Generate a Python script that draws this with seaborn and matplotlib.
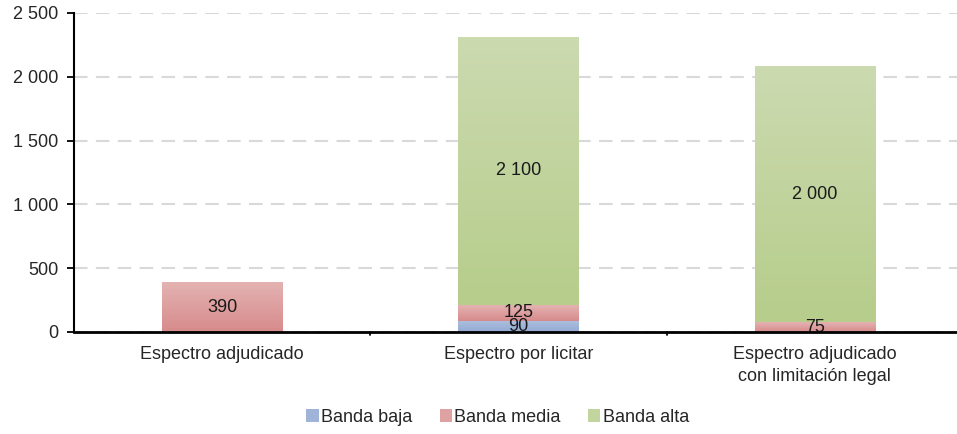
import numpy as np
import matplotlib
matplotlib.use("Agg")
import matplotlib.pyplot as plt
import matplotlib.colors as mcolors
from matplotlib.patches import Patch
import seaborn as sns

categories = ["Espectro adjudicado", "Espectro por licitar", "Espectro adjudicado\ncon limitación legal"]
series = ["Banda baja", "Banda media", "Banda alta"]
banda_baja = [0, 90, 0]
banda_media = [390, 125, 75]
banda_alta = [0, 2100, 2000]
y_ticks = [0, 500, 1000, 1500, 2000, 2500]
y_tick_labels = ["0", "500", "1 000", "1 500", "2 000", "2 500"]

# (top colour, bottom colour) of each gradient fill
grad_colors = {
    "Banda baja": ("#aec0de", "#93aad3"),
    "Banda media": ("#e4b2b2", "#d78b8b"),
    "Banda alta": ("#ccdab0", "#b6cd8b"),
}
legend_colors = {"Banda baja": "#a0b4da", "Banda media": "#dea2a2", "Banda alta": "#c2d59f"}

sns.set_theme(style="white")
plt.rcParams["font.family"] = ["Liberation Sans", "DejaVu Sans"]
FS = 13

fig = plt.figure(figsize=(9.57, 4.34), dpi=100)
ax = fig.add_axes([74 / 957, 102 / 434, 883 / 957, 319 / 434])

x = np.arange(len(categories))
width = 0.405
bottom = np.zeros(len(categories))
for name, vals in zip(series, [banda_baja, banda_media, banda_alta]):
    vals = np.array(vals, dtype=float)
    bars = ax.bar(x, vals, width, bottom=bottom, color="none", edgecolor="none", zorder=2)
    top_c, bot_c = grad_colors[name]
    cmap = mcolors.LinearSegmentedColormap.from_list(name, [bot_c, top_c])
    grad = np.linspace(0, 1, 64).reshape(-1, 1)
    for bar, v, b in zip(bars, vals, bottom):
        if v <= 0:
            continue
        bx = bar.get_x()
        ax.imshow(grad, cmap=cmap, extent=[bx, bx + width, b, b + v], origin="lower",
                  aspect="auto", zorder=2, interpolation="bicubic")
        ax.text(bar.get_x() + width / 2, b + v / 2, f"{int(v):,}".replace(",", " "),
                ha="center", va="center", fontsize=FS, color="#1a1a1a", zorder=4)
    bottom += vals

ax.set_xlim(-0.5, 2.48)
ax.set_ylim(0, 2500)
ax.set_yticks(y_ticks)
ax.set_yticklabels(y_tick_labels, fontsize=FS)
ax.set_xticks(x)
ax.set_xticklabels(categories, fontsize=FS, linespacing=1.4)
ax.tick_params(axis="x", length=0, pad=10)
ax.tick_params(axis="y", length=5, width=1.3, color="black", direction="out", pad=6, left=True)

# category boundary ticks on the x axis
for bnd in [0.5, 1.5]:
    ax.plot([bnd, bnd], [0, -25], color="black", lw=1.3, clip_on=False, zorder=5)

ax.yaxis.grid(True, color="#d9d9d9", linestyle=(0, (6.5, 4)), linewidth=1.5, zorder=0)
ax.set_axisbelow(True)
sns.despine(ax=ax, top=True, right=True)
ax.spines["left"].set_color("black")
ax.spines["left"].set_linewidth(1.5)
ax.spines["bottom"].set_color("black")
ax.spines["bottom"].set_linewidth(2)
ax.spines["left"].set_zorder(5)
ax.spines["bottom"].set_zorder(5)

handles = [Patch(facecolor=legend_colors[s], edgecolor="none", label=s) for s in series]
fig.legend(handles=handles, loc="center", bbox_to_anchor=(0.52, 0.038), ncol=3,
           frameon=False, fontsize=FS, handlelength=0.7, handleheight=0.7,
           handletextpad=0.12, columnspacing=1.5)

fig.savefig("out.png", dpi=100)
